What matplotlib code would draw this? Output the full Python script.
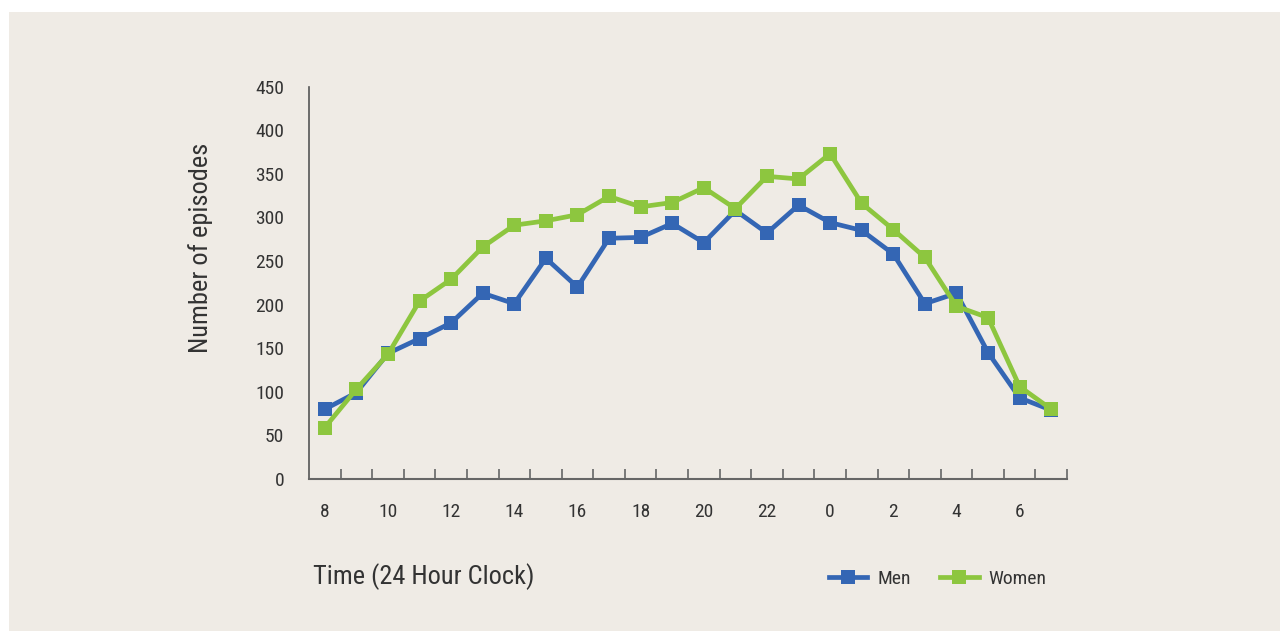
import matplotlib
matplotlib.use('Agg')
import matplotlib.pyplot as plt
from matplotlib.patches import Rectangle
import numpy as np

plt.rcParams['font.family'] = ['Roboto Condensed', 'Liberation Sans Narrow',
                               'Roboto', 'DejaVu Sans']

hours = [8, 9, 10, 11, 12, 13, 14, 15, 16, 17, 18, 19, 20, 21, 22, 23,
         0, 1, 2, 3, 4, 5, 6, 7]
men = [80, 99, 144, 161, 179, 213, 201, 253, 220, 276, 277, 293,
       271, 308, 282, 314, 294, 285, 258, 201, 213, 145, 93, 79]
women = [59, 103, 143, 204, 229, 266, 291, 296, 303, 324, 312, 317,
         334, 310, 347, 344, 373, 316, 286, 254, 198, 185, 106, 80]

BG = "#efebe5"
BLUE = "#3466b4"
GREEN = "#8dc63f"
TXT = "#333333"

fig = plt.figure(figsize=(12.8, 6.31), dpi=100)
fig.patch.set_facecolor("white")
fig.patches.append(Rectangle((9 / 1280, 0), 1 - 9 / 1280, 1 - 12 / 631,
                             transform=fig.transFigure, facecolor=BG,
                             edgecolor="none", zorder=-10))

ax = fig.add_axes([309 / 1280, 1 - 479 / 631, 758 / 1280, 392.5 / 631])
ax.set_zorder(2)
ax.set_facecolor("none")

x = np.arange(len(hours))
ax.plot(x, men, color=BLUE, lw=3.4, marker="s", ms=9.5, mew=0,
        label="Men", zorder=3)
ax.plot(x, women, color=GREEN, lw=3.4, marker="s", ms=9.5, mew=0,
        label="Women", zorder=4)

ax.set_xlim(-0.5, len(hours) - 0.5)
ax.set_ylim(0, 450)

ax.set_yticks(np.arange(0, 451, 50))
ax.tick_params(axis="y", length=0, pad=18, labelsize=14, labelcolor=TXT)

ax.set_xticks(x[::2])
ax.set_xticklabels([str(h) for h in hours[::2]])
ax.set_xticks(np.arange(-0.5, len(hours), 1.0)[1:], minor=True)
ax.tick_params(axis="x", which="major", length=0, pad=17, labelsize=14,
               labelcolor=TXT)
ax.tick_params(axis="x", which="minor", direction="in", length=7,
               width=1.2, color="#666666")

for s in ["top", "right"]:
    ax.spines[s].set_visible(False)
ax.spines["left"].set_color("#555555")
ax.spines["bottom"].set_color("#666666")
ax.spines["left"].set_linewidth(1.2)
ax.spines["bottom"].set_linewidth(1.5)

fig.text(201 / 1280, 1 - 248 / 631, "Number of episodes", rotation=90,
         ha="center", va="center", fontsize=19, color=TXT)
fig.text(313 / 1280, 1 - 577 / 631, "Time (24 Hour Clock)", ha="left",
         va="center", fontsize=19, color=TXT)

fig.legend(loc="center left", bbox_to_anchor=(811 / 1280, 1 - 579 / 631),
           ncol=2, frameon=False, fontsize=14, handlelength=2.0,
           handletextpad=0.5, columnspacing=1.5, labelcolor=TXT)

fig.savefig("out.png", dpi=100, facecolor="white")
